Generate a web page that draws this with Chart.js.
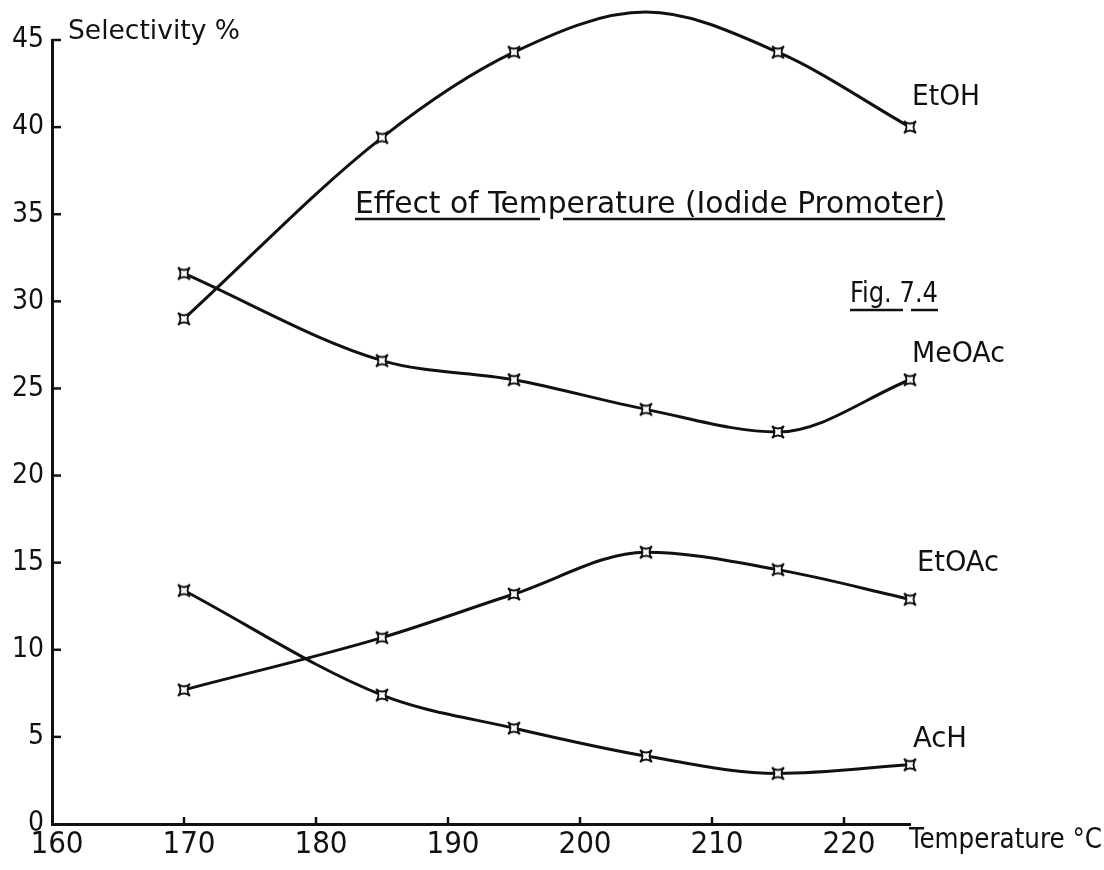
<!DOCTYPE html>
<html>
<head>
<meta charset="utf-8">
<title>Effect of Temperature (Iodide Promoter)</title>
<script src="https://cdn.jsdelivr.net/npm/chart.js@4.4.1/dist/chart.umd.min.js"></script>
<style>
    html, body { margin: 0; padding: 0; background: #fff; }
    #wrap { width: 1104px; height: 870px; position: relative; }
</style>
</head>
<body>
<div id="wrap"><canvas id="chart"></canvas></div>
<script>
// values
const temperatures = [170, 185, 195, 205, 215, 225];
const etohValues = [29.0, 39.4, 44.3, 46.6, 44.3, 40.0];
const meoacValues = [31.6, 26.6, 25.5, 23.8, 22.5, 25.5];
const etoacValues = [7.7, 10.7, 13.2, 15.6, 14.6, 12.9];
const achValues = [13.4, 7.4, 5.5, 3.9, 2.9, 3.4];

const xTickValues = [160, 170, 180, 190, 200, 210, 220];
const yTickValues = [0, 5, 10, 15, 20, 25, 30, 35, 40, 45];

const seriesNames = ["EtOH", "MeOAc", "EtOAc", "AcH"];
const seriesValues = [etohValues, meoacValues, etoacValues, achValues];

const titleText = "Effect of Temperature (Iodide Promoter)";
const figText = "Fig. 7.4";
const yTitle = "Selectivity %";
const xTitle = "Temperature °C";

const fontFamily = '"DejaVu Sans Condensed", "DejaVu Sans", sans-serif';
const ink = "#111";

// little four-pointed star used as the point marker
function starMarker() {
    const c = document.createElement("canvas");
    c.width = 16;
    c.height = 16;
    const g = c.getContext("2d");
    g.beginPath();
    g.moveTo(2, 2);
    g.quadraticCurveTo(8, 7, 14, 2);
    g.quadraticCurveTo(9, 8, 14, 14);
    g.quadraticCurveTo(8, 9, 2, 14);
    g.quadraticCurveTo(7, 8, 2, 2);
    g.closePath();
    g.fillStyle = "#fff";
    g.fill();
    g.lineWidth = 1.8;
    g.strokeStyle = ink;
    g.stroke();
    return c;
}
const marker = starMarker();

// text squeezed to a given width, like the stencil lettering of the original
function drawLabel(ctx, text, x, baseline, size, width) {
    ctx.save();
    ctx.font = `${size}px ${fontFamily}`;
    const measured = ctx.measureText(text).width;
    ctx.translate(x, baseline);
    ctx.scale(width / measured, 1);
    ctx.textAlign = "left";
    ctx.textBaseline = "alphabetic";
    ctx.fillStyle = ink;
    ctx.fillText(text, 0, 0);
    ctx.restore();
}

function underline(ctx, x1, x2, y) {
    ctx.save();
    ctx.strokeStyle = ink;
    ctx.lineWidth = 2.5;
    ctx.beginPath();
    ctx.moveTo(x1, y);
    ctx.lineTo(x2, y);
    ctx.stroke();
    ctx.restore();
}

const annotations = {
    id: "annotations",
    afterDraw(chart) {
        const { ctx, scales } = chart;
        const x = scales.x;
        const y = scales.y;

        // inward tick marks
        ctx.save();
        ctx.strokeStyle = ink;
        ctx.lineWidth = 2.5;
        yTickValues.slice(1).forEach((v) => {
            const py = y.getPixelForValue(v);
            ctx.beginPath();
            ctx.moveTo(x.left, py);
            ctx.lineTo(x.left + 9, py);
            ctx.stroke();
        });
        xTickValues.slice(1).forEach((v) => {
            const px = x.getPixelForValue(v);
            ctx.beginPath();
            ctx.moveTo(px, y.bottom);
            ctx.lineTo(px, y.bottom - 7);
            ctx.stroke();
        });
        ctx.restore();

        drawLabel(ctx, yTitle, 68, 39, 27, 172);
        drawLabel(ctx, xTitle, 909, 848, 29, 193);

        drawLabel(ctx, titleText, 355, 213, 30, 590);
        underline(ctx, 355, 540, 219);
        underline(ctx, 563, 945, 219);

        drawLabel(ctx, figText, 850, 302, 28, 88);
        underline(ctx, 850, 903, 310);
        underline(ctx, 911, 938, 310);

        drawLabel(ctx, "EtOH", 912, 105, 29, 68);
        drawLabel(ctx, "MeOAc", 912, 362, 29, 93);
        drawLabel(ctx, "EtOAc", 917, 571, 29, 82);
        drawLabel(ctx, "AcH", 913, 747, 29, 54);
    },
};

const datasets = seriesNames.map((name, i) => ({
    label: name,
    data: temperatures.map((t, j) => ({ x: t, y: seriesValues[i][j] })),
    borderColor: ink,
    backgroundColor: ink,
    borderWidth: 3,
    cubicInterpolationMode: "monotone",
    pointStyle: marker,
    pointRadius: 8,
    clip: false,
}));

new Chart(document.getElementById("chart"), {
    type: "line",
    data: { datasets },
    plugins: [annotations],
    options: {
        responsive: true,
        maintainAspectRatio: false,
        animation: false,
        layout: { padding: { top: 40, right: 194, bottom: 0, left: 0 } },
        plugins: {
            legend: { display: false },
            tooltip: { enabled: false },
        },
        scales: {
            x: {
                type: "linear",
                min: 160,
                max: 225,
                afterFit: (scale) => { scale.height = 46; },
                afterBuildTicks: (scale) => {
                    scale.ticks = xTickValues.map((v) => ({ value: v }));
                },
                grid: { display: false, drawTicks: false },
                border: { display: true, color: ink, width: 3 },
                ticks: {
                    color: ink,
                    padding: 2,
                    font: { family: fontFamily, size: 31 },
                    labelOffset: 5,
                },
            },
            y: {
                min: 0,
                max: 45,
                afterFit: (scale) => { scale.width = 52; },
                afterBuildTicks: (scale) => {
                    scale.ticks = yTickValues.map((v) => ({ value: v }));
                },
                grid: { display: false, drawTicks: false },
                border: { display: true, color: ink, width: 3 },
                ticks: {
                    color: ink,
                    padding: 8,
                    font: { family: fontFamily, size: 28 },
                },
            },
        },
    },
});
</script>
</body>
</html>
